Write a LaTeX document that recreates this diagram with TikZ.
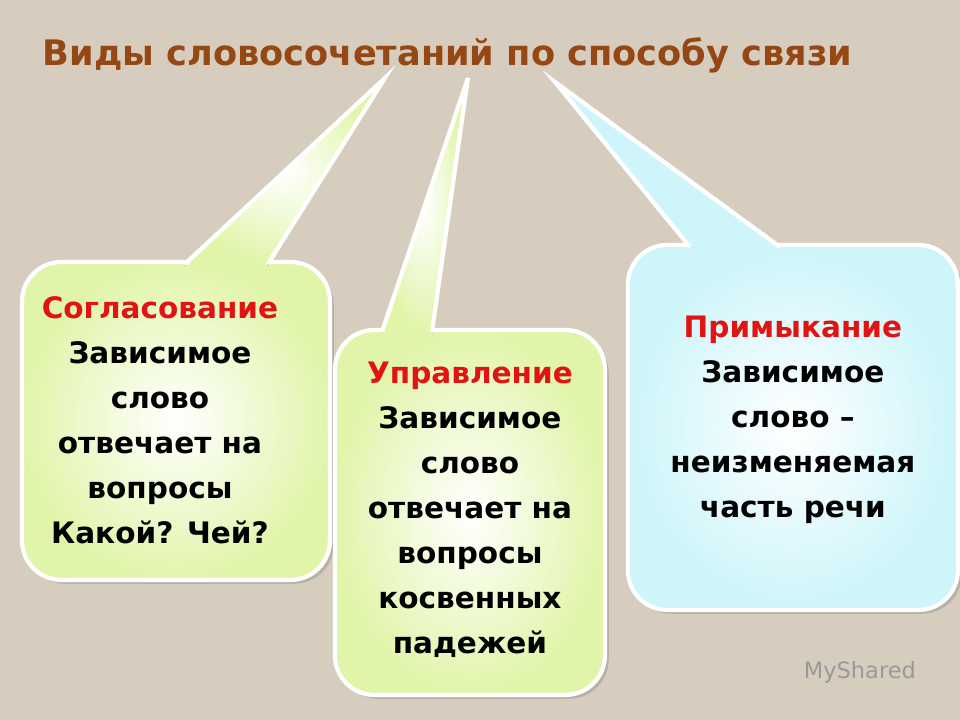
\documentclass[tikz,border=0pt]{standalone}
\usepackage{fontspec}
\setmainfont{DejaVu Sans}
\usetikzlibrary{shadows}
\definecolor{bgcol}{RGB}{214,205,190}
\definecolor{titlecol}{RGB}{150,72,20}
\definecolor{greenfill}{RGB}{225,245,170}
\definecolor{cyanfill}{RGB}{205,245,250}
\definecolor{headred}{RGB}{225,20,20}
\tikzset{
  bubble/.style={draw=white,line width=3pt,rounded corners=28pt,drop shadow={opacity=0.35}},
  bubbletext/.style={align=center,font=\fontsize{21}{32}\selectfont\bfseries}
}
\begin{document}
\begin{tikzpicture}[x=0.025cm,y=-0.025cm]
% Background
\fill[bgcol] (0,0) rectangle (960,720);

% Title
\node[font=\fontsize{25}{30}\selectfont\bfseries,text=titlecol,anchor=west] (title) at (38,55) {Виды словосочетаний по способу связи};

% Bubbles with tails
\fill[bubble,inner color=white,outer color=greenfill]
  (22,262) rectangle (330,580);
\fill[inner color=white,outer color=greenfill] (185,266) -- (385,78) -- (268,266) -- cycle;
\draw[white,line width=3pt] (185,264) -- (385,78) -- (268,264);

\fill[bubble,inner color=white,outer color=greenfill]
  (335,330) rectangle (605,695);
\fill[inner color=white,outer color=greenfill] (382,334) -- (468,78) -- (432,334) -- cycle;
\draw[white,line width=3pt] (382,332) -- (468,78) -- (432,332);

\fill[bubble,inner color=white,outer color=cyanfill]
  (628,245) rectangle (958,610);
\fill[cyanfill] (690,249) -- (555,82) -- (780,249) -- cycle;
\draw[white,line width=3pt] (690,247) -- (555,82) -- (780,247);

% Texts
\node[bubbletext] (agree) at (160,420) {\textcolor{headred}{Согласование}\\Зависимое\\слово\\отвечает на\\вопросы\\Какой? Чей?};
\node[bubbletext] (govern) at (470,510) {\textcolor{headred}{Управление}\\Зависимое\\слово\\отвечает на\\вопросы\\косвенных\\падежей};
\node[bubbletext] (adjoin) at (793,420) {\textcolor{headred}{Примыкание}\\Зависимое\\слово –\\неизменяемая\\часть речи};

% Watermark
\node[text=gray!80,font=\fontsize{16}{18}\selectfont] (mark) at (860,672) {MyShared};
\end{tikzpicture}
\end{document}
